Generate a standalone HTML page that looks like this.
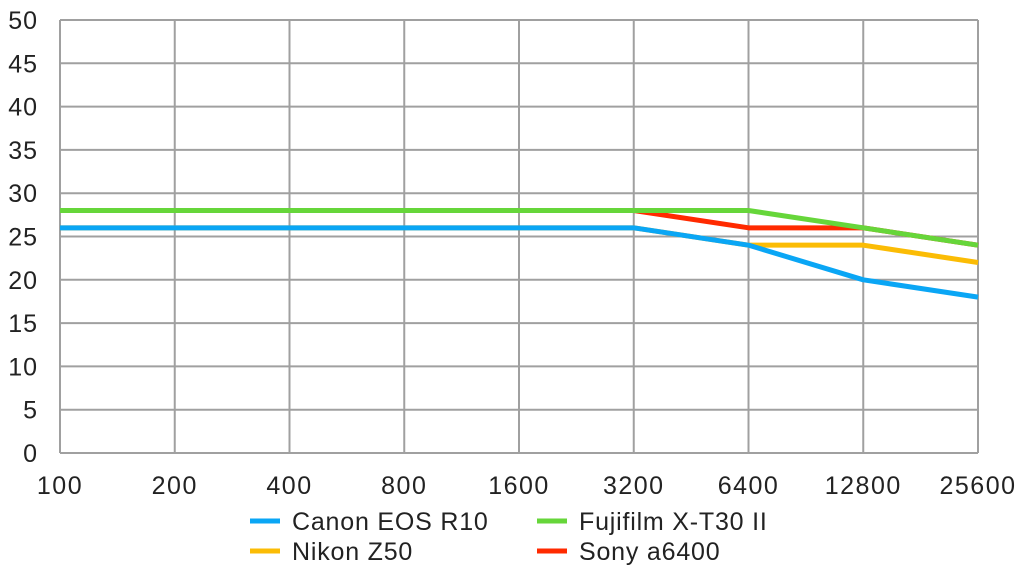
<!DOCTYPE html>
<html><head><meta charset="utf-8"><style>
body{margin:0;background:#fff;font-family:"Liberation Sans",sans-serif}
svg text{font-family:"Liberation Sans",sans-serif;fill:#222}
</style></head><body>
<svg id="chart" width="1024" height="576" xmlns="http://www.w3.org/2000/svg"></svg>
<script>
const categories=["100","200","400","800","1600","3200","6400","12800","25600"];
const yTicks=[0,5,10,15,20,25,30,35,40,45,50];
const canon=[26,26,26,26,26,26,24,20,18];
const nikon=[26,26,26,26,26,26,24,24,22];
const sony=[28,28,28,28,28,28,26,26,24];
const fuji=[28,28,28,28,28,28,28,26,24];
const NS="http://www.w3.org/2000/svg";
const svg=document.getElementById('chart');
const x0=60,x1=978,y0=453,y1=20;
const xs=i=>x0+i*(x1-x0)/(categories.length-1);
const ys=v=>y0-(v/50)*(y0-y1);
function mk(t,a,p){const e=document.createElementNS(NS,t);for(const k in a)e.setAttribute(k,a[k]);(p||svg).appendChild(e);return e;}
const grid=mk('g',{});


yTicks.forEach(v=>{
 const l=mk('line',{x1:x0,x2:x1,y1:ys(v),y2:ys(v),stroke:'#a0a0a0','stroke-width':2},grid);
 
 
 const t=mk('text',{x:x0-22,y:ys(v)+9,'text-anchor':'end','font-size':25,'letter-spacing':1});
 t.textContent=v;
 
 
});
categories.forEach((c,i)=>{
 const l=mk('line',{x1:xs(i),x2:xs(i),y1:y1,y2:y0,stroke:'#a0a0a0','stroke-width':2},grid);
 
 
 const t=mk('text',{x:xs(i),y:y0+41,'text-anchor':'middle','font-size':25,'letter-spacing':1.5});
 t.textContent=c;
 
 
});
const series=[[nikon,'#fbbc05','nikon-z50-line'],[canon,'#0aa6f5','canon-eos-r10-line'],[sony,'#ff2a00','sony-a6400-line'],[fuji,'#66d63a','fujifilm-xt30ii-line']];
series.forEach(s=>{
 const p=mk('polyline',{points:s[0].map((v,i)=>xs(i)+','+ys(v)).join(' '),fill:'none',stroke:s[1],'stroke-width':5,'stroke-linejoin':'round'});
 
 
});
const leg=[["Canon EOS R10",'#0aa6f5',250,521],["Fujifilm X-T30 II",'#66d63a',537,521],["Nikon Z50",'#fbbc05',250,551],["Sony a6400",'#ff2a00',537,551]];
leg.forEach(l=>{
 const g=mk('g',{});
 
 
 mk('line',{x1:l[2],x2:l[2]+30,y1:l[3],y2:l[3],stroke:l[1],'stroke-width':5},g);
 const t=mk('text',{x:l[2]+42,y:l[3]+9,'font-size':25,'letter-spacing':0.8},g);
 t.textContent=l[0];
});
</script>
</body></html>
